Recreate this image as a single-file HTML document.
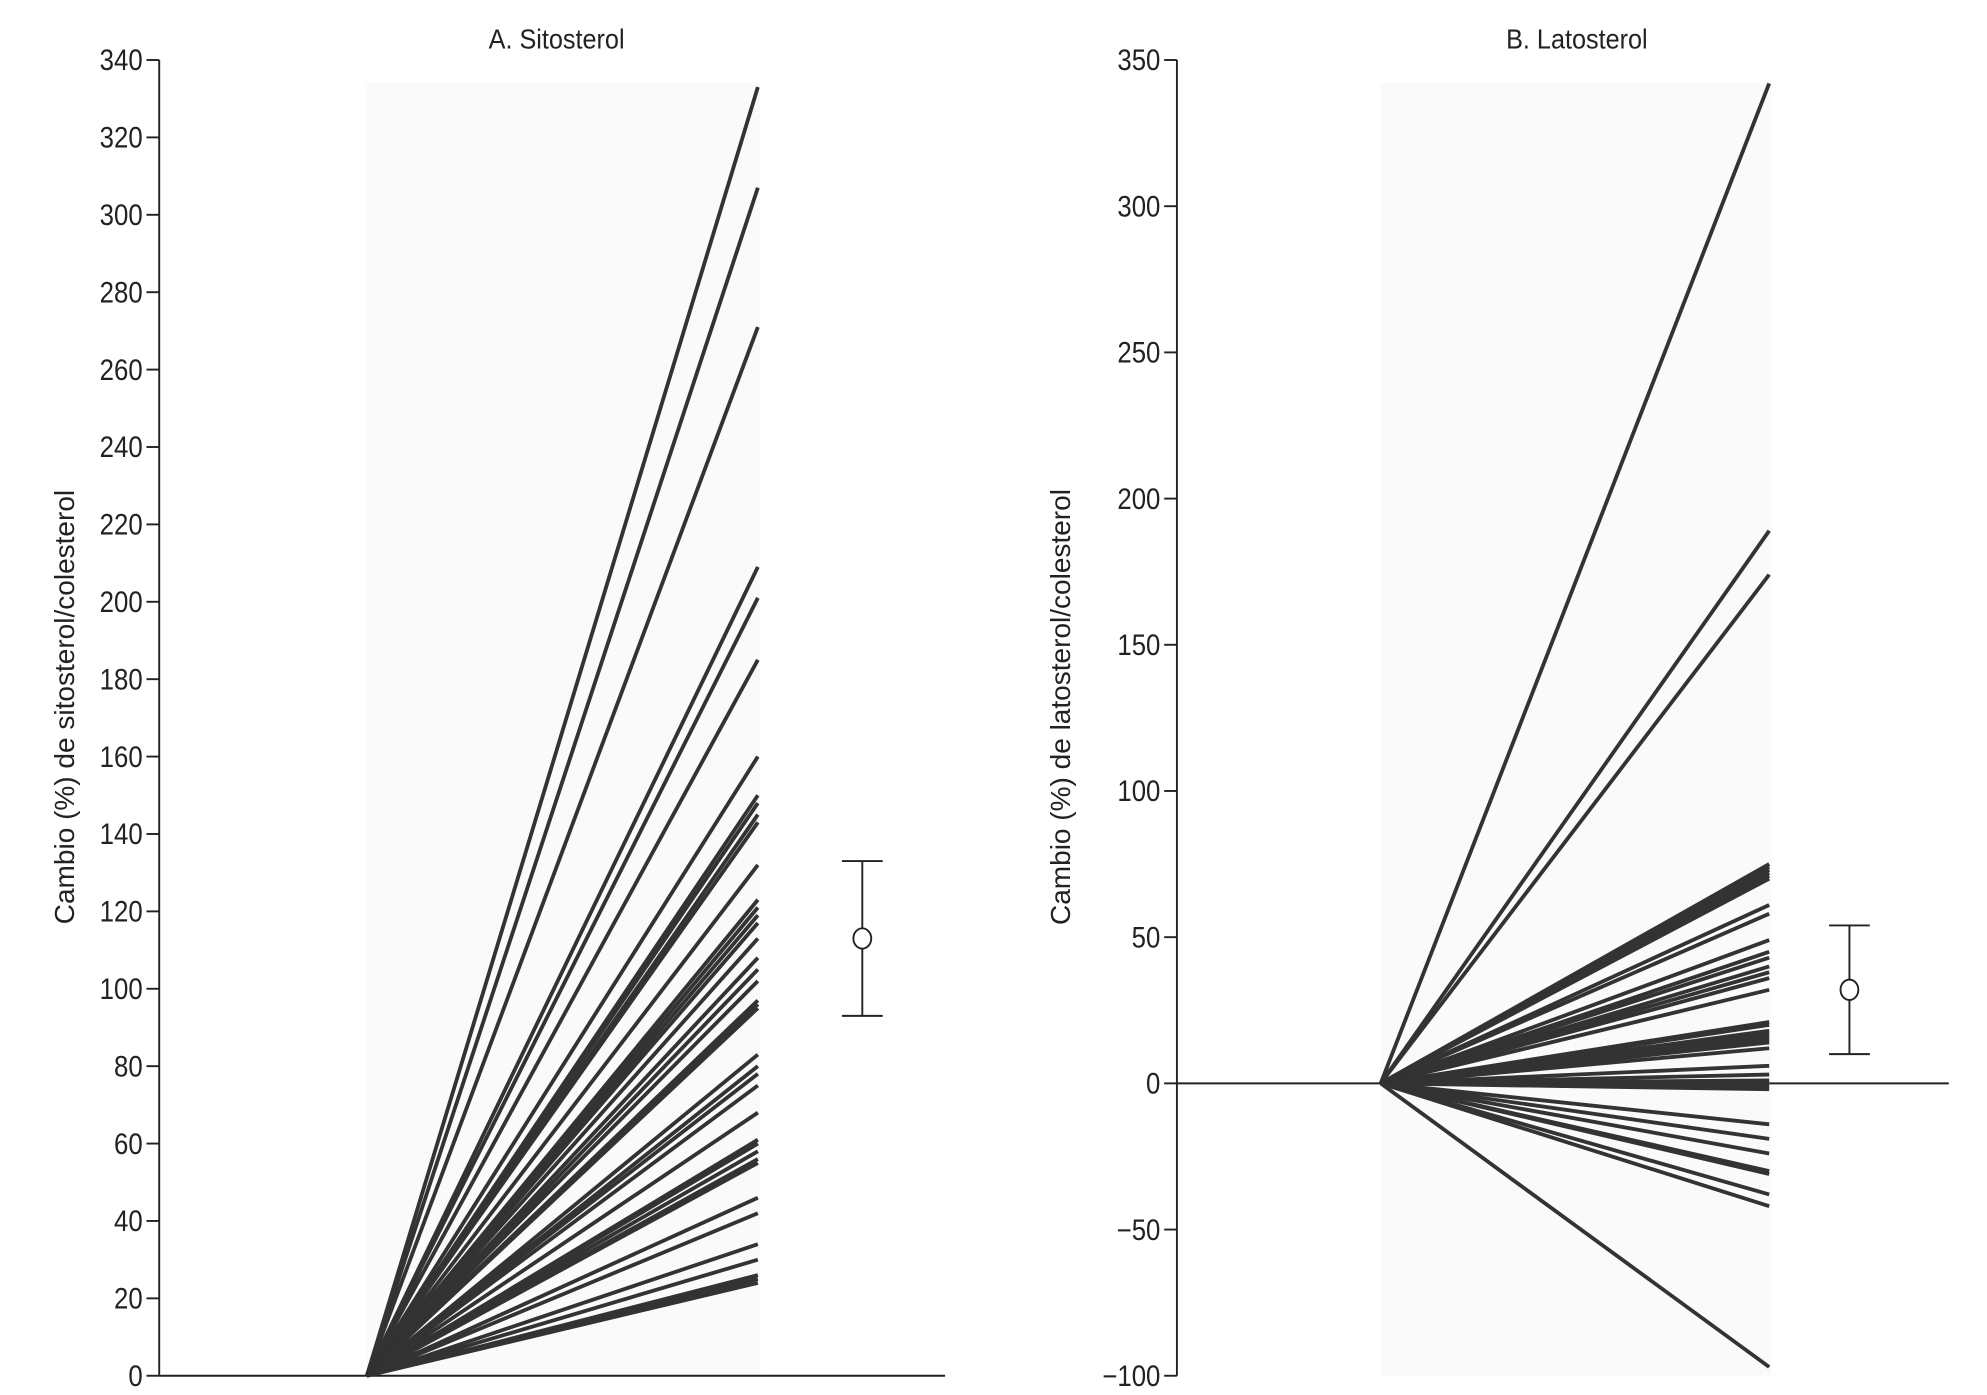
<!DOCTYPE html>
<html><head><meta charset="utf-8"><style>
html,body{margin:0;padding:0;background:#fff;}
svg{display:block;font-family:"Liberation Sans",sans-serif;}
</style></head><body>
<svg id="c" width="1987" height="1395" viewBox="0 0 1560 1095" xmlns="http://www.w3.org/2000/svg"></svg>
<script>
const ticksA = [0,20,40,60,80,100,120,140,160,180,200,220,240,260,280,300,320,340];
const valuesA = [333,307,271,209,201,185,160,150,148,145,143,132,123,121,119,117,113,108,105,102,97,96,95,83,80,78,75,68,61,60,58,56,55,46,42,34,30,26,25,24];
const meanA = [113,93,133];
const ticksB = [-100,-50,0,50,100,150,200,250,300,350];
const valuesB = [342,189,174,75,74,73,72,71,70,61,58,49,45,43,40,38,36,32,21,20,18,17,16,15,14,12,6,3,1,0,-1,-2,-14,-19,-24,-30,-31,-38,-42,-97];
const meanB = [32,10,54];

const svg = document.getElementById('c');
const NS = 'http://www.w3.org/2000/svg';
function mk(tag, attrs, parent){const e=document.createElementNS(NS,tag);for(const k in attrs)e.setAttribute(k,attrs[k]);(parent||svg).appendChild(e);return e;}

function panel(cfg){
  const g = mk('g',{});
  
  
  const yTop=47,yBot=1080;
  const y = v => yBot - (v-cfg.min)/(cfg.max-cfg.min)*(yBot-yTop);
  const bg = mk('rect',{x:cfg.x0,y:65,width:cfg.x1-cfg.x0+2,height:yBot-65,fill:'#fafafa'},g);
  
  
  const ax = mk('line',{x1:cfg.ax,y1:yTop,x2:cfg.ax,y2:yBot,stroke:'#222','stroke-width':1.5},g);
  
  
  cfg.ticks.forEach(t=>{
    const ty=y(t);
    const tl = mk('line',{x1:cfg.ax-10,y1:ty,x2:cfg.ax,y2:ty,stroke:'#222','stroke-width':1.5},g);
    
    
    const lx=cfg.ax-13;
    const tx = mk('text',{x:0,y:0,'text-anchor':'end','font-size':23,fill:'#222',transform:`translate(${lx} ${ty+8}) scale(0.88 1)`},g);
    
    
    tx.textContent = t<0 ? '\u2212'+(-t) : String(t);
  });
  const z=y(0);
  cfg.xaxis.forEach(s=>{
    const xl = mk('line',{x1:s[0],y1:z,x2:s[1],y2:z,stroke:'#222','stroke-width':1.5},g);
    
    
  });
  cfg.values.forEach(v=>{
    const l = mk('line',{x1:cfg.x0,y1:z,x2:cfg.x1,y2:y(v),stroke:'#333','stroke-width':3},g);
    
    
  });
  const ex=cfg.ex;
  const eb = mk('g',{},g);
  
  
  mk('line',{x1:ex,y1:y(cfg.mean[1]),x2:ex,y2:y(cfg.mean[2]),stroke:'#222','stroke-width':1.5},eb);
  mk('line',{x1:ex-16,y1:y(cfg.mean[1]),x2:ex+16,y2:y(cfg.mean[1]),stroke:'#222','stroke-width':1.5},eb);
  mk('line',{x1:ex-16,y1:y(cfg.mean[2]),x2:ex+16,y2:y(cfg.mean[2]),stroke:'#222','stroke-width':1.5},eb);
  mk('ellipse',{cx:ex,cy:y(cfg.mean[0]),rx:7,ry:8,fill:'#fff',stroke:'#222','stroke-width':1.5},eb);
  const tt = mk('text',{x:0,y:0,'text-anchor':'middle','font-size':22,fill:'#222',transform:`translate(${cfg.tx} 38) scale(0.9 1)`},g);
  
  
  tt.textContent=cfg.title;
  const yt = mk('text',{x:0,y:0,'text-anchor':'middle','font-size':22,fill:'#222',transform:`translate(${cfg.ytx} 555) rotate(-90)`},g);
  
  
  yt.textContent=cfg.ytitle;
}
panel({name:'panel-a-sitosterol',min:0,max:340,ticks:ticksA,values:valuesA,mean:meanA,ax:125,x0:288,x1:595,ex:677,xaxis:[[125,742]],tx:437,title:'A. Sitosterol',ytx:58,ytitle:'Cambio (%) de sitosterol/colesterol'});
panel({name:'panel-b-latosterol',min:-100,max:350,ticks:ticksB,values:valuesB,mean:meanB,ax:924,x0:1084,x1:1389,ex:1452,xaxis:[[924,1086],[1389,1530]],tx:1238,title:'B. Latosterol',ytx:840,ytitle:'Cambio (%) de latosterol/colesterol'});
</script>
</body></html>
